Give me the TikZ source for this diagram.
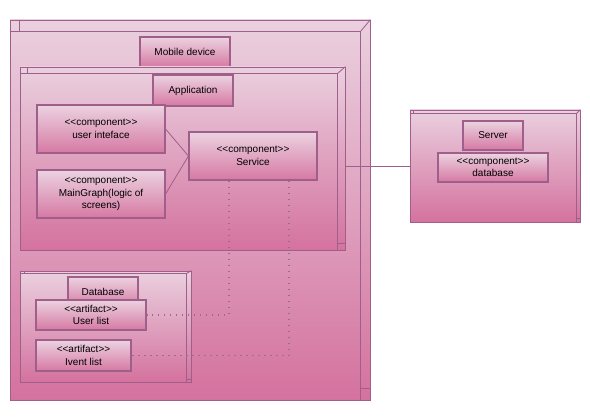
\documentclass[tikz,border=0pt]{standalone}
\usepackage{fontspec}
\setmainfont{Liberation Sans}[Ligatures=TeXOff]
\usetikzlibrary{calc}
\definecolor{edgepink}{HTML}{A05E8A}
\definecolor{lightpink}{HTML}{EAD0DF}
\definecolor{darkpink}{HTML}{D4729E}
\definecolor{dotpink}{HTML}{9E6A8E}

\begin{document}
\begin{tikzpicture}[x=1pt,y=-1pt,
every node/.style = {
shape= rectangle,
inner sep      = 0pt,
align          = center,
text           = black,
font           = \fontsize{10}{12.5}\selectfont},
device/.style  = {
draw           = edgepink,
line width     = 0.8pt,
top color      = lightpink,
bottom color   = darkpink},
label box/.style = {
draw           = edgepink,
line width     = 1.1pt,
top color      = lightpink!95!white,
bottom color   = darkpink!95!white},
pink edge/.style  = { -,
line width = 0.8pt,
edgepink},
dot edge/.style = { -,
line width = 1.5pt,
dotpink,
dash pattern = on 1.5pt off 4.5pt}
]
\useasboundingbox (0,0) rectangle (590,420);
%
\node[device, minimum width=360pt, minimum height=380pt] (mobile) at (190,210) {};
\node[label box, minimum width=90pt, minimum height=30pt] (mobilelbl) at (185,52) {Mobile device};
\node[device, minimum width=325pt, minimum height=183pt] (app) at (182.5,158.5) {};
\node[label box, minimum width=80pt, minimum height=31pt] (applbl) at (193,90.5) {Application};
\node[label box, minimum width=128pt, minimum height=48pt] (uicomp) at (101,129) {<<component>>\\user inteface};
\node[label box, minimum width=128pt, minimum height=48pt] (maingraph) at (101,194) {<<component>>\\MainGraph(logic of\\screens)};
\node[label box, minimum width=128pt, minimum height=48pt] (service) at (253,156) {<<component>>\\Service};
\node[device, minimum width=171pt, minimum height=111pt] (db) at (105.5,326.5) {};
\node[label box, minimum width=70pt, minimum height=30pt] (dblbl) at (103,292) {Database};
\node[label box, minimum width=110pt, minimum height=30pt] (userlist) at (91,315) {<<artifact>>\\User list};
\node[label box, minimum width=95pt, minimum height=31pt] (iventlist) at (83.5,355.5) {<<artifact>>\\Ivent list};
\node[device, minimum width=170pt, minimum height=112pt] (server) at (495,166) {};
\node[label box, minimum width=60pt, minimum height=29pt] (serverlbl) at (493,135.5) {Server};
\node[label box, minimum width=110pt, minimum height=29pt] (dbcomp) at (493,167.5) {<<component>>\\database};
%
% 3d look of the device boxes
\foreach \n/\dx/\dy in {mobile/10/12, app/8/7, db/5/3, server/4/4} {
\draw[pink edge] ($(\n.north west)+(0,\dy)$) -- ($(\n.north east)+(-\dx,\dy)$) -- ($(\n.south east)+(-\dx,0)$);
\draw[pink edge] ($(\n.north east)+(-\dx,\dy)$) -- (\n.north east);
\draw[pink edge] ($(\n.north west)+(\dx,0)$) -- ++(0,\dy);
\draw[pink edge] ($(\n.south east)+(-\dx,-\dy)$) -- ++(\dx,0);
}
%
\draw[pink edge] (uicomp.east) -- (service.west);
\draw[pink edge] (maingraph.east) -- (service.west);
\draw[pink edge] (app.east |- server.west) -- (server.west);
\draw[dot edge] ($(service.south)+(-24,0)$) |- (userlist.east);
\draw[dot edge] ($(service.south)+(36,0)$) |- (iventlist.east);
%
\end{tikzpicture}
\end{document}
